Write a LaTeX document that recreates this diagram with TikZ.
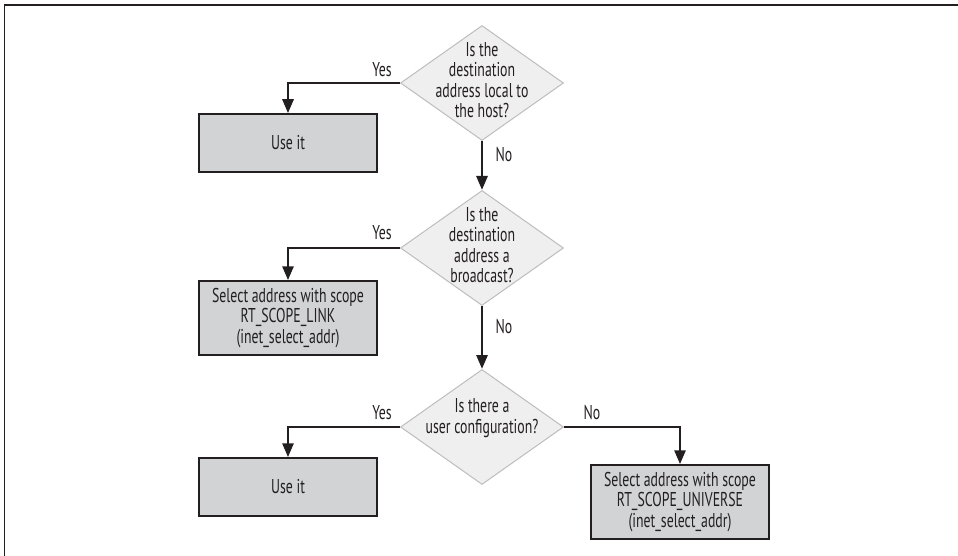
\documentclass[tikz,border=0pt]{standalone}
\usepackage{fontspec}
\setmainfont{PT Sans}[FakeStretch=0.69]
\usetikzlibrary{shapes.geometric,arrows.meta}
\definecolor{ink}{HTML}{231F20}
\definecolor{boxfill}{HTML}{D1D3D4}
\definecolor{diafill}{HTML}{EFEFF0}
\definecolor{diaedge}{HTML}{BDBDBD}
\tikzset{
  txt/.style={font=\fontsize{20}{20.5}\selectfont, text=ink},
  dia/.style={diamond, draw=diaedge, fill=diafill, line width=1pt, inner sep=0pt, minimum width=163pt, minimum height=115pt},
  actbox/.style={rectangle, draw=ink, fill=boxfill, line width=1.5pt, inner sep=0pt, minimum width=178pt, align=center, txt},
  arr/.style={draw=ink, line width=2.8pt, -{Triangle[length=14pt,width=11pt]}},
  lbl/.style={txt, inner sep=0pt}
}
\begin{document}
\begin{tikzpicture}[x=1pt,y=-1pt]
\useasboundingbox (0,0) rectangle (958,556);
\draw[ink, line width=1.4pt] (958,5) -- (4.5,5) -- (4.5,556);
% diamonds
\node[dia] (d1) at (482,83) {};
\node[txt, align=center] (t1) at (482,80) {Is the\\destination\\address local to\\the host?};
\node[dia] (d2) at (482,248) {};
\node[txt, align=center] (t2) at (482,245) {Is the\\destination\\address a\\broadcast?};
\node[dia] (d3) at (482,427) {};
\node[txt, align=center] (t3) at (482,418) {Is there a\\user configuration?};
% boxes
\node[actbox, minimum height=58pt] (b1) at (288,143) {Use it};
\node[actbox, minimum height=74pt] (b2) at (288,318) {Select address with scope\\RT\_SCOPE\_LINK\\(inet\_select\_addr)};
\node[actbox, minimum height=58pt] (b3) at (288,487) {Use it};
\node[actbox, minimum height=74pt] (b4) at (680,502) {Select address with scope\\RT\_SCOPE\_UNIVERSE\\(inet\_select\_addr)};
% connectors
\draw[arr] (d1.west) -| (b1.north);
\draw[arr] (d1.south) -- (d2.north);
\draw[arr] (d2.west) -| (b2.north);
\draw[arr] (d2.south) -- (d3.north);
\draw[arr] (d3.west) -| (b3.north);
\draw[arr] (d3.east) -| (b4.north);
% labels
\node[lbl] (y1) at (382,70) {Yes};
\node[lbl] (n1) at (504,155) {No};
\node[lbl] (y2) at (382,233) {Yes};
\node[lbl] (n2) at (504,327) {No};
\node[lbl] (y3) at (382,413) {Yes};
\node[lbl] (n3) at (592,413) {No};
\end{tikzpicture}
\end{document}
